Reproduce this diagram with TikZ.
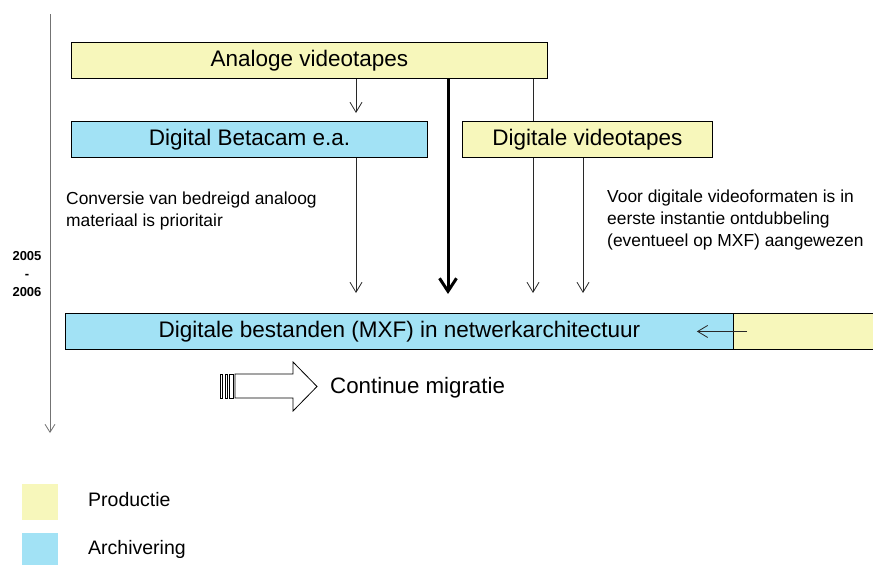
\documentclass[tikz,border=0pt]{standalone}
\usepackage{fontspec}
\setmainfont{Liberation Sans}
\usetikzlibrary{arrows.meta}
\definecolor{prod}{RGB}{247,247,187}
\definecolor{arch}{RGB}{162,226,245}
\definecolor{edge}{RGB}{40,40,40}
\tikzset{
  boxnode/.style={draw=black, line width=0.9pt, anchor=north west, inner sep=0pt,
    font=\fontsize{22.5}{26}\selectfont},
  thinarr/.style={draw=edge, line width=0.8pt, -{Straight Barb[length=10pt,width=12pt,line width=0.8pt]}},
  thickarr/.style={draw=black, line width=3pt, -{Straight Barb[length=13pt,width=17pt,line width=3pt]}},
  note/.style={anchor=north west, inner sep=0pt, align=left, font=\fontsize{17.4}{22}\selectfont},
  legtext/.style={anchor=west, inner sep=0pt, font=\fontsize{19.5}{23}\selectfont},
}
\begin{document}
\begin{tikzpicture}[x=1pt,y=-1pt]
\useasboundingbox (0,0) rectangle (873,565);

% timeline
\coordinate (tl0) at (50,14);
\coordinate (tl1) at (50,433);
\draw[draw=gray!90!black, line width=0.9pt, -{Straight Barb[length=8pt,width=10pt,line width=0.8pt]}] (tl0) -- (tl1);
\node[font=\bfseries\fontsize{13}{18}\selectfont, align=center, inner sep=0pt] (yr) at (27,274) {2005\\-\\2006};

% boxes
\node[boxnode, fill=prod, minimum width=476pt, minimum height=36pt] (A) at (71,42) {Analoge videotapes};
\node[boxnode, fill=arch, minimum width=356pt, minimum height=36pt] (B) at (71,121) {Digital Betacam e.a.};
\node[boxnode, fill=prod, minimum width=250pt, minimum height=36pt] (D) at (462,121) {Digitale videotapes};
\node[boxnode, fill=arch, minimum width=668pt, minimum height=36pt] (M) at (65,313) {Digitale bestanden (MXF) in netwerkarchitectuur};
\node[boxnode, fill=prod, minimum width=142pt, minimum height=36pt] (P) at (733,313) {};

% notes
\node[note] (n1) at (66,192) {Conversie van bedreigd analoog\\materiaal is prioritair};
\node[note] (n2) at (607,190) {Voor digitale videoformaten is in\\eerste instantie ontdubbeling\\(eventueel op MXF) aangewezen};

% connector x positions
\coordinate (c1) at (356,0);
\coordinate (c2) at (448,0);
\coordinate (c3) at (533,0);
\coordinate (c4) at (583,0);

\draw[thinarr, shorten >=8pt] (A.south -| c1) -- (B.north -| c1);
\draw[thinarr, shorten >=20pt] (B.south -| c1) -- (M.north -| c1);
\draw[thickarr, shorten >=19pt] (A.south -| c2) -- (M.north -| c2);
\draw[draw=edge, line width=0.8pt] (A.south -| c3) -- (D.north -| c3);
\draw[thinarr, shorten >=20pt] (D.south -| c3) -- (M.north -| c3);
\draw[thinarr, shorten >=20pt] (D.south -| c4) -- (M.north -| c4);
\draw[thinarr] ([xshift=14pt]P.west) -- ([xshift=-37pt]M.east);

% continue migratie block arrow
\draw[line width=0.7pt, fill=white] (220.5,374) rectangle (222.5,398);
\draw[line width=0.7pt, fill=white] (225,374) rectangle (227.5,398);
\draw[line width=0.7pt, fill=white] (229.5,374) rectangle (233,398);
\draw[line width=0.8pt, fill=white] (235,374) -- (293,374) -- (293,362) -- (317,386.5) -- (293,411) -- (293,398) -- (235,398) -- cycle;
\node[anchor=west, inner sep=0pt, font=\fontsize{22.3}{26}\selectfont] (cm) at (330,388) {Continue migratie};

% legend
\node[fill=prod, minimum width=36pt, minimum height=36pt, inner sep=0pt, anchor=north west] (lp) at (22,484) {};
\node[fill=arch, minimum width=36pt, minimum height=33pt, inner sep=0pt, anchor=north west] (la) at (22,533) {};
\node[legtext] (tp) at (88,500) {Productie};
\node[legtext] (ta) at (88,549) {Archivering};
\end{tikzpicture}
\end{document}
